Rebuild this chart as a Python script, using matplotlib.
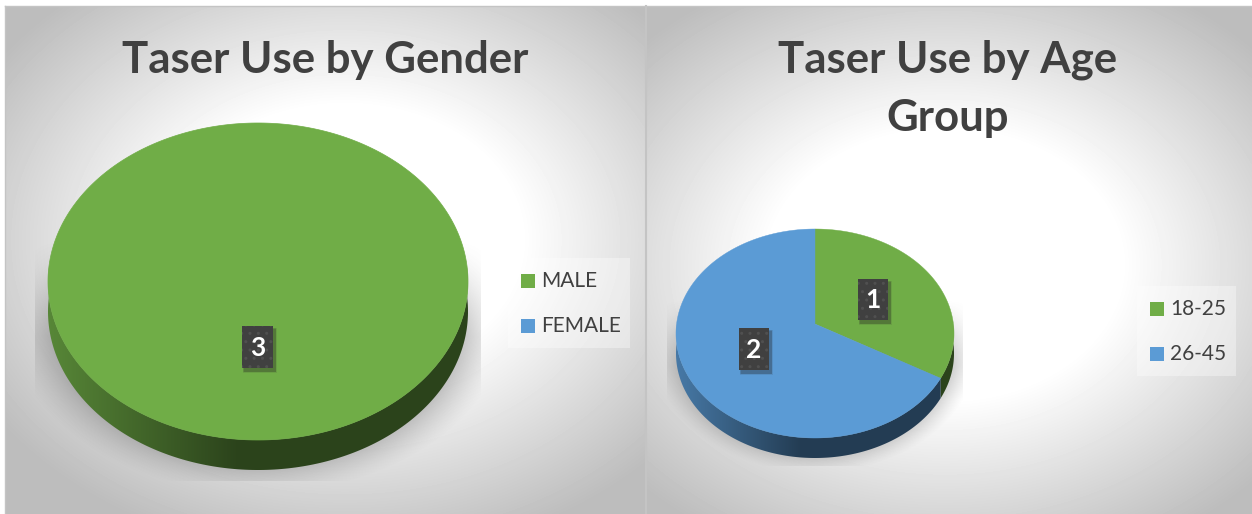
import numpy as np
import matplotlib
matplotlib.use('Agg')
import matplotlib.pyplot as plt
from matplotlib.patches import Polygon, Rectangle

plt.rcParams['font.family'] = ['Lato', 'DejaVu Sans']

GREEN = '#70AD47'
BLUE = '#5B9BD5'
TEXT = '#404040'

gender_labels = ['MALE', 'FEMALE']
gender_values = [3, 0]
age_labels = ['18-25', '26-45']
age_values = [1, 2]
colors = [GREEN, BLUE]

fig = plt.figure(figsize=(12.52, 5.14), dpi=100)
ax = fig.add_axes([0, 0, 1, 1])
ax.set_xlim(0, 1252)
ax.set_ylim(514, 0)
ax.axis('off')


def panel_bg(x0, x1, y0, y1, cx, cy, rx, ry):
    xs, ys = np.meshgrid(np.arange(x0, x1) + .5, np.arange(y0, y1) + .5)
    d = np.sqrt(((xs - cx) / rx) ** 2 + ((ys - cy) / ry) ** 2)
    v = np.interp(d, [0, .42, 1], [1, 1, .74])
    ax.imshow(v, cmap='gray', vmin=0, vmax=1, extent=(x0, x1, y1, y0),
              aspect='auto', zorder=0, interpolation='bilinear')


def project(theta, cx, cy, rx, ry_up, ry_down):
    # circle seen in perspective, so the apex sits above the middle of the ellipse
    k = (ry_down - ry_up) / (ry_down + ry_up)
    a = 2 * ry_up * ry_down / (ry_up + ry_down)
    b = rx * np.sqrt(1 - k ** 2)
    sx, sy = np.sin(theta), np.cos(theta)
    den = 1 + k * sy
    return cx + b * sx / den, cy - a * sy / den


def shadow(x0, x1, y0, y1, cx, cy, rx, ry):
    xs, ys = np.meshgrid(np.arange(x0, x1) + .5, np.arange(y0, y1) + .5)
    d = np.sqrt(((xs - cx) / rx) ** 2 + ((ys - cy) / ry) ** 2)
    alpha = np.clip((1 - d) / .22, 0, 1) ** 1.3 * .48
    # shadow fades out towards the top of the pie
    alpha *= np.clip((ys - y0) / (.4 * (y1 - y0)), 0, 1)
    img = np.zeros(xs.shape + (4,))
    img[..., :3] = .35
    img[..., 3] = alpha
    ax.imshow(img, extent=(x0, x1, y1, y0), aspect='auto', zorder=1,
              interpolation='bilinear')


def pie3d(values, cx, cy, rx, ry_up, ry_down, depth):
    fracs = np.cumsum([0] + list(values)) / sum(values)
    xmin, xmax = cx - rx, cx + rx
    for i, v in enumerate(values):
        if v == 0:
            continue
        t0, t1 = 2 * np.pi * fracs[i], 2 * np.pi * fracs[i + 1]
        # side wall: only the front half of the rim shows
        s0, s1 = max(t0, np.pi / 2), min(t1, 3 * np.pi / 2)
        if s1 > s0:
            tt = np.linspace(s0, s1, 200)
            x, y = project(tt, cx, cy, rx, ry_up, ry_down)
            pts = np.r_[np.c_[x, y], np.c_[x, y + depth][::-1]]
            xs = np.arange(int(xmin), int(xmax) + 1)
            f = np.interp(xs, [xmin, xmin + .45 * (xmax - xmin)], [.78, .39])
            rgb = np.array(matplotlib.colors.to_rgb(colors[i]))
            img = f[None, :, None] * rgb[None, None, :]
            im = ax.imshow(img, extent=(xmin, xmax, y.max() + depth + 2, cy - 20),
                           aspect='auto', zorder=2, interpolation='bilinear')
            clip = Polygon(pts, closed=True, transform=ax.transData)
            im.set_clip_path(clip)
        tt = np.linspace(t0, t1, 400)
        x, y = project(tt, cx, cy, rx, ry_up, ry_down)
        if v == sum(values):
            ax.fill(x, y, color=colors[i], lw=.5, zorder=3)
        else:
            ax.fill(np.r_[cx, x], np.r_[cy, y], color=colors[i], lw=.3, zorder=3)


def value_box(x0, x1, y0, y1, value):
    for grow, a in [(3, .10), (2, .14), (1, .18)]:
        ax.add_patch(Rectangle((x0 + 2 - grow / 2, y0 + 3 - grow / 2), x1 - x0 + grow,
                               y1 - y0 + grow, fc='#222222', ec='none', alpha=a, zorder=4))
    ax.add_patch(Rectangle((x0, y0), x1 - x0, y1 - y0, fc='#404040', ec='#505050',
                           hatch='..', lw=0, zorder=5))
    ax.text((x0 + x1) / 2, (y0 + y1) / 2 + 1, str(value), color='white', fontsize=19,
            fontweight='bold', ha='center', va='center', zorder=6)


def legend(x0, x1, y0, y1, sx, tx, ys, labels):
    ax.add_patch(Rectangle((x0, y0), x1 - x0, y1 - y0, fc='white', ec='none',
                           alpha=.35, zorder=2))
    for y, lab, c in zip(ys, labels, colors):
        ax.add_patch(Rectangle((sx, y - 7), 14, 14, fc=c, ec='none', zorder=3))
        ax.text(tx, y, lab, color=TEXT, fontsize=15, va='center', zorder=3)


fig.patch.set_facecolor('white')
panel_bg(5, 645, 6, 514, 345, 240, 420, 320)
panel_bg(647, 1252, 6, 514, 945, 265, 420, 320)
ax.plot([5, 5], [6, 514], color='#c4c4c4', lw=1, zorder=7)
ax.plot([5, 1252], [6, 6], color='#c4c4c4', lw=1, zorder=7)
ax.plot([646, 646], [6, 514], color='#c4c4c4', lw=1.5, zorder=7)

# left chart
ax.text(325, 60, 'Taser Use by Gender', color=TEXT, fontsize=31.5, fontweight='bold',
        ha='center', va='center')
shadow(35, 481, 240, 481, 258, 318, 250, 176)
pie3d(gender_values, 258, 268, 210, 145, 172, 30)
value_box(242, 273, 326, 368, gender_values[0])
legend(508, 630, 258, 348, 521, 541, [281, 326], gender_labels)

# right chart
ax.text(948, 60, 'Taser Use by Age', color=TEXT, fontsize=31.5, fontweight='bold',
        ha='center', va='center')
ax.text(948, 118, 'Group', color=TEXT, fontsize=31.5, fontweight='bold',
        ha='center', va='center')
shadow(667, 963, 300, 466, 815, 345, 165, 128)
pie3d(age_values, 815, 324, 139, 95, 114, 20)
value_box(858, 888, 279, 320, age_values[0])
value_box(739, 769, 328, 370, age_values[1])
legend(1137, 1236, 286, 376, 1150, 1170, [309, 354], age_labels)

ax.set_xlim(0, 1252)
ax.set_ylim(514, 0)
fig.savefig('out.png', dpi=100, facecolor='white')
